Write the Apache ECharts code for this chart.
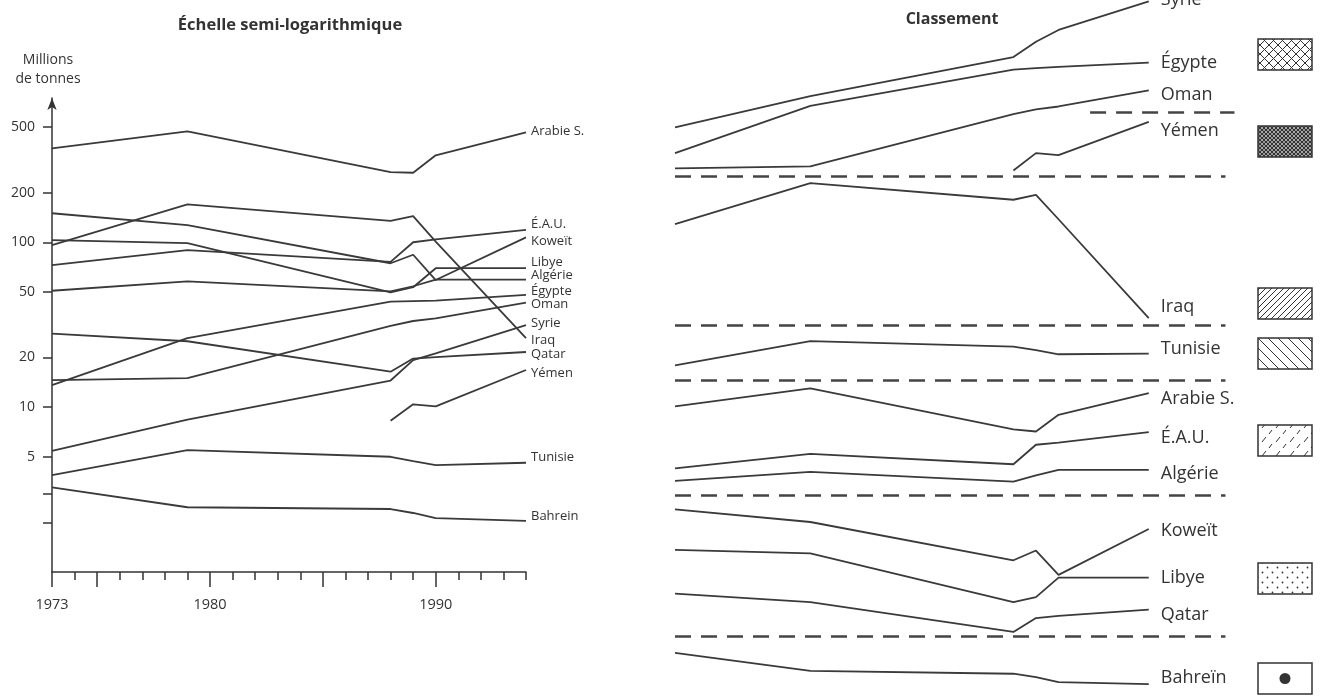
<!DOCTYPE html>
<html>
<head>
<meta charset="utf-8">
<title>Production de pétrole</title>
<script src="https://cdn.jsdelivr.net/npm/echarts@6/dist/echarts.min.js"></script>
<style>
  html, body { margin: 0; padding: 0; background: #fff; }
  #chart { width: 1325px; height: 696px; }
</style>
</head>
<body>
<div id="chart"></div>
<script>
// années
const years = [1973, 1979, 1988, 1989, 1990, 1994]

// production, millions de tonnes (échelle semi-log)
const arabie  = [371, 471, 266, 264, 337, 464]
const eau     = [72.6, 89.5, 76, 100, 104, 119]
const koweit  = [150, 127, 74.6, 84, 59, 107]
const libye   = [103, 98.7, 49.7, 53.4, 69.6, 69.6]
const algerie = [50.8, 57.9, 50.3, 54.1, 59.3, 59.3]
const egypte  = [13.6, 26.2, 43.7, 44, 44.3, 47.9]
const oman    = [14.6, 15.0, 31.1, 33.3, 34.5, 43.0]
const syrie   = [5.43, 8.41, 14.5, 19.3, 21.2, 31.4]
const iraq    = [96, 170, 135, 144, 101, 26.2]
const qatar   = [27.9, 25.1, 16.4, 19.7, 20.1, 21.6]
const yemen   = [null, null, 8.26, 10.4, 10.1, 16.8]
const tunisie = [3.87, 5.49, 5.0, 4.71, 4.45, 4.6]
const bahrein = [3.26, 2.47, 2.41, 2.28, 2.12, 2.04]

// classement : position verticale (0 = haut, 100 = bas)
const syrieRang   = [18.3, 13.8, 8.2, 6.0, 4.3, 0.2]
const egypteRang  = [22.0, 15.2, 10.0, 9.8, 9.6, 9.0]
const omanRang    = [24.2, 23.9, 16.4, 15.7, 15.3, 13.0]
const yemenRang   = [null, null, 24.5, 22.0, 22.3, 17.5]
const iraqRang    = [32.2, 26.3, 28.7, 28.0, 31.5, 45.7]
const tunisieRang = [52.5, 49.0, 49.8, 50.3, 50.9, 50.8]
const arabieRang  = [58.4, 55.8, 61.7, 62.0, 59.6, 56.5]
const eauRang     = [67.3, 65.2, 66.7, 63.9, 63.6, 62.1]
const algerieRang = [69.1, 67.8, 69.2, 68.3, 67.5, 67.5]
const koweitRang  = [73.2, 75.0, 80.5, 79.1, 82.6, 76.0]
const libyeRang   = [79.0, 79.5, 86.5, 85.8, 83.0, 83.0]
const qatarRang   = [85.3, 86.5, 90.8, 88.8, 88.5, 87.6]
const bahreinRang = [93.8, 96.4, 96.8, 97.3, 98.0, 98.3]

// séparations des groupes (tirets)
const separations = [25.3, 46.7, 54.6, 71.1, 91.4]
const separationOmanYemen = 16.1

// graduations
const yTicks = [2, 3, 5, 10, 20, 50, 100, 200, 500]
const yLabels = [5, 10, 20, 50, 100, 200, 500]
const xLongTicks = [1973, 1975, 1980, 1985, 1990]
const xLabels = [1973, 1980, 1990]

const FONT = '"Open Sans", Lato, sans-serif'
const INK = '#3a3a3a'

const toPairs = vals => years.map((y, i) => [y, vals[i]])

// petites trames des cartouches
const motif = (kind) => {
  const s = { croise: 9, croiseFin: 4, hachureD: 6, hachureG: 10, tirets: 14, points: 10 }[kind]
  const c = document.createElement('canvas')
  c.width = s
  c.height = s
  const g = c.getContext('2d')
  g.fillStyle = '#fff'
  g.fillRect(0, 0, s, s)
  g.strokeStyle = '#333'
  g.fillStyle = '#333'
  g.lineWidth = 1
  const line = (x1, y1, x2, y2) => { g.beginPath(); g.moveTo(x1, y1); g.lineTo(x2, y2); g.stroke() }
  if (kind === 'croise' || kind === 'croiseFin') {
    if (kind === 'croiseFin') g.lineWidth = 1.3
    line(-1, -1, s + 1, s + 1)
    line(s + 1, -1, -1, s + 1)
  } else if (kind === 'hachureD') {
    line(-1, s + 1, s + 1, -1)
    line(-1, 1, 1, -1)
    line(s - 1, s + 1, s + 1, s - 1)
  } else if (kind === 'hachureG') {
    line(-1, -1, s + 1, s + 1)
    line(-1, s - 1, 1, s + 1)
    line(s - 1, -1, s + 1, 1)
  } else if (kind === 'tirets') {
    line(2, 8, 6, 3)
    line(9, 14, 12, 10)
  } else if (kind === 'points') {
    g.beginPath(); g.arc(2.5, 2.5, 0.9, 0, Math.PI * 2); g.fill()
    g.beginPath(); g.arc(7.5, 7.5, 0.9, 0, Math.PI * 2); g.fill()
  }
  return { image: c, repeat: 'repeat' }
}

const leftSeries = [
  ['Arabie S.', arabie, -1],
  ['É.A.U.', eau, -6],
  ['Koweït', koweit, 4],
  ['Libye', libye, -6],
  ['Algérie', algerie, -4],
  ['Égypte', egypte, -4],
  ['Oman', oman, 2],
  ['Syrie', syrie, -2],
  ['Iraq', iraq, 2],
  ['Qatar', qatar, 2],
  ['Yémen', yemen, 3],
  ['Tunisie', tunisie, -5],
  ['Bahrein', bahrein, -5]
].map(([name, vals, dy]) => ({
  type: 'line',
  name: name,
  xAxisIndex: 0,
  yAxisIndex: 0,
  data: toPairs(vals),
  symbol: 'none',
  silent: true,
  lineStyle: { color: INK, width: 1.8 },
  endLabel: {
    show: true,
    formatter: name,
    offset: [0, dy],
    distance: 5,
    fontSize: 13,
    color: '#333',
    fontFamily: FONT
  }
}))

const rightSeries = [
  ['Syrie', syrieRang, -2],
  ['Égypte', egypteRang, 0],
  ['Oman', omanRang, 4],
  ['Yémen', yemenRang, 9],
  ['Iraq', iraqRang, -11],
  ['Tunisie', tunisieRang, -5],
  ['Arabie S.', arabieRang, 6],
  ['É.A.U.', eauRang, 6],
  ['Algérie', algerieRang, 4],
  ['Koweït', koweitRang, 2],
  ['Libye', libyeRang, 0],
  ['Qatar', qatarRang, 5],
  ['Bahreïn', bahreinRang, -6]
].map(([name, vals, dy]) => ({
  type: 'line',
  name: name,
  xAxisIndex: 2,
  yAxisIndex: 1,
  data: toPairs(vals),
  symbol: 'none',
  silent: true,
  lineStyle: { color: INK, width: 1.8 },
  endLabel: {
    show: true,
    formatter: name,
    offset: [0, dy],
    distance: 12,
    fontSize: 18,
    color: '#333',
    fontFamily: FONT
  }
}))

// tirets de séparation, posés sur la dernière série
rightSeries[rightSeries.length - 1].markLine = {
  silent: true,
  symbol: ['none', 'none'],
  label: { show: false },
  lineStyle: { color: '#444', width: 2.5, type: [16, 10] },
  data: separations.map(v => [{ coord: [1973, v] }, { coord: [1997.4, v] }])
    .concat([[{ coord: [1991.4, separationOmanYemen] }, { coord: [1997.8, separationOmanYemen] }]])
}

// cartouches de trame
const boxes = [
  ['croise', 39], ['croiseFin', 126], ['hachureD', 288], ['hachureG', 338],
  ['tirets', 425], ['points', 563]
].map(([kind, top]) => ({
  type: 'rect',
  shape: { x: 1258, y: top, width: 54, height: 31 },
  style: { fill: motif(kind), stroke: '#333', lineWidth: 1.5 },
  silent: true
}))
boxes.push({
  type: 'group',
  silent: true,
  children: [
    { type: 'rect', shape: { x: 1258, y: 663, width: 54, height: 31 }, style: { fill: '#fff', stroke: '#333', lineWidth: 1.5 } },
    { type: 'circle', shape: { cx: 1285, cy: 678.5, r: 5.5 }, style: { fill: '#333' } }
  ]
})

const option = {
  animation: false,
  backgroundColor: '#fff',
  title: [
    {
      text: 'Échelle semi-logarithmique',
      left: 285,
      top: 12,
      textAlign: 'center',
      textStyle: { fontSize: 16.5, fontWeight: 'bold', color: '#333', fontFamily: FONT }
    },
    {
      text: 'Classement',
      left: 947,
      top: 6,
      textAlign: 'center',
      textStyle: { fontSize: 16, fontWeight: 'bold', color: '#333', fontFamily: FONT }
    }
  ],
  grid: [
    { left: 52, top: 98, width: 474, height: 474 },
    { left: 675, top: 0, width: 564, height: 696 }
  ],
  xAxis: [
    {
      type: 'value',
      gridIndex: 0,
      position: 'bottom',
      min: 1973,
      max: 1994,
      splitLine: { show: false },
      axisLine: { show: true, lineStyle: { color: '#333', width: 1.5 } },
      axisTick: { show: true, customValues: xLongTicks, length: 15, lineStyle: { color: '#333', width: 1.5 } },
      axisLabel: {
        customValues: xLabels,
        formatter: v => String(v),
        margin: 25,
        fontSize: 14.5,
        color: '#333',
        fontFamily: FONT
      }
    },
    {
      type: 'value',
      gridIndex: 0,
      position: 'bottom',
      min: 1973,
      max: 1994,
      interval: 1,
      splitLine: { show: false },
      axisLine: { show: false },
      axisTick: { show: true, length: 8, lineStyle: { color: '#333', width: 1.5 } },
      axisLabel: { show: false }
    },
    {
      type: 'value',
      gridIndex: 1,
      min: 1973,
      max: 1998,
      show: false
    }
  ],
  yAxis: [
    {
      type: 'log',
      gridIndex: 0,
      min: 1,
      max: 750,
      name: 'Millions\nde tonnes',
      nameLocation: 'end',
      nameGap: 9,
      nameTextStyle: {
        fontSize: 14,
        lineHeight: 19,
        color: '#333',
        fontFamily: FONT,
        align: 'center',
        padding: [0, 8, 0, 0]
      },
      splitLine: { show: false },
      axisLine: {
        show: true,
        symbol: ['none', 'arrow'],
        symbolSize: [7, 12],
        lineStyle: { color: '#333', width: 1.5 }
      },
      axisTick: { show: true, customValues: yTicks, length: 9, lineStyle: { color: '#333', width: 1.5 } },
      axisLabel: {
        customValues: yLabels,
        margin: 17,
        fontSize: 14,
        color: '#333',
        fontFamily: FONT
      }
    },
    {
      type: 'value',
      gridIndex: 1,
      min: 0,
      max: 100,
      inverse: true,
      show: false
    }
  ],
  graphic: boxes,
  series: leftSeries.concat(rightSeries)
}

const drawEcharts = (option, id) => {
  let dom = document.getElementById(id)
  if (dom === null) return
  let echart = echarts.init(dom)
  option && echart.setOption(option)
}

drawEcharts(option, 'chart')
</script>
</body>
</html>
